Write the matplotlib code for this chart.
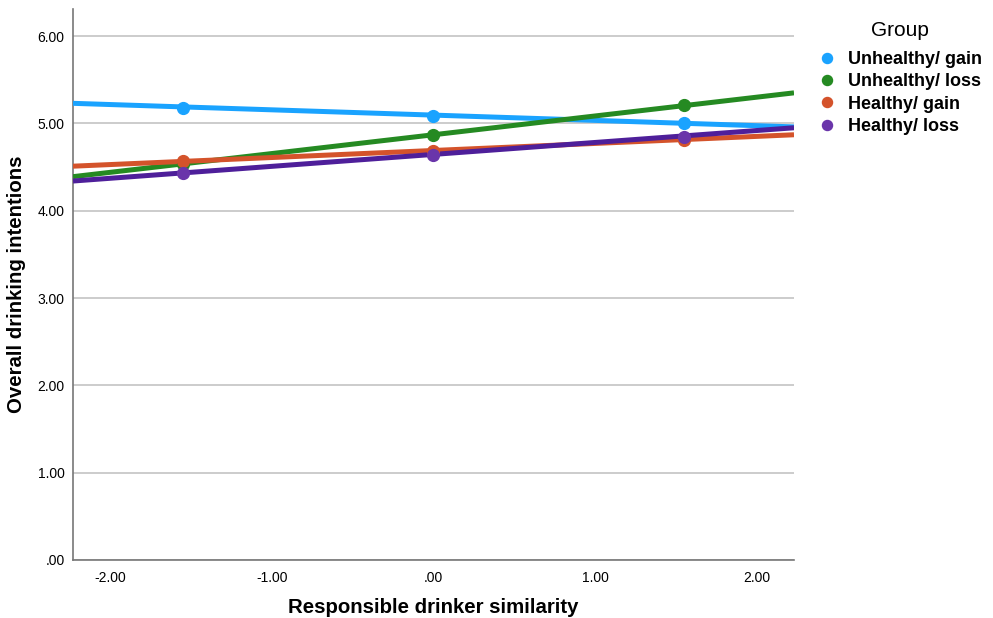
import matplotlib.pyplot as plt
import numpy as np

plt.rcParams['font.family'] = ['Liberation Sans', 'DejaVu Sans']

groups = ['Unhealthy/ gain', 'Unhealthy/ loss', 'Healthy/ gain', 'Healthy/ loss']
colors = ['#1AA3FF', '#258A22', '#D4532B', '#4E1F9A']
marker_colors = ['#1AA3FF', '#258A22', '#D4532B', '#6A35AA']

# points at -1 SD, mean, +1 SD of similarity
pointX = [-1.55, 0.0, 1.55]
pointY = [
    [5.18, 5.09, 5.00],
    [4.53, 4.87, 5.21],
    [4.57, 4.68, 4.81],
    [4.43, 4.64, 4.84],
]

# fit lines, value at left and right edge of the plot
edgeX = [-2.23, 2.23]
edgeY = [
    [5.23, 4.96],
    [4.39, 5.35],
    [4.51, 4.87],
    [4.34, 4.95],
]

fig = plt.figure(figsize=(9.93, 6.18), dpi=100)
ax = fig.add_axes([0.0735, 0.0939, 0.7261, 0.8915])

for i in range(len(groups)):
    ax.plot(edgeX, edgeY[i], '-', color=colors[i], lw=3.6, solid_capstyle='butt', zorder=3)
for i in range(len(groups)):
    ax.plot(pointX, pointY[i], 'o', color=marker_colors[i], ms=8.5, zorder=4,
            label=groups[i])

ax.set_xlim(-2.23, 2.23)
ax.set_ylim(0, 6.31)
ax.set_xticks([-2, -1, 0, 1, 2])
ax.set_xticklabels(['-2.00', '-1.00', '.00', '1.00', '2.00'])
ax.set_yticks([0, 1, 2, 3, 4, 5, 6])
ax.set_yticklabels(['.00', '1.00', '2.00', '3.00', '4.00', '5.00', '6.00'])
ax.tick_params(length=0, labelsize=10)
ax.tick_params(axis='x', pad=8)
ax.tick_params(axis='y', pad=6)
ax.grid(axis='y', color='#c4c4c4', lw=1.2)
ax.set_axisbelow(True)
for s in ['top', 'right']:
    ax.spines[s].set_visible(False)
for s in ['left', 'bottom']:
    ax.spines[s].set_color('#777777')
    ax.spines[s].set_linewidth(1.2)

ax.set_xlabel('Responsible drinker similarity', fontsize=14.7, fontweight='bold', labelpad=9)
ax.set_ylabel('Overall drinking intentions', fontsize=14.7, fontweight='bold', labelpad=8)

fig.text(0.906, 0.951, 'Group', fontsize=15, ha='center', va='center')
leg = fig.legend(loc='upper left', bbox_to_anchor=(0.8238, 0.9175),
                 frameon=False, prop={'size': 13, 'weight': 'bold'},
                 handlelength=1, handletextpad=0.65, labelspacing=0.3,
                 markerscale=0.85, borderaxespad=0, borderpad=0)

fig.savefig('out.png', dpi=100)
